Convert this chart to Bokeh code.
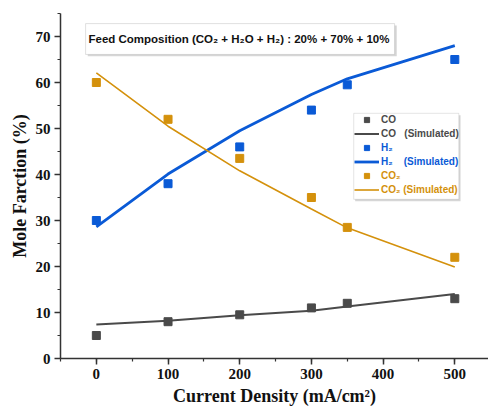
from bokeh.plotting import figure
from bokeh.models import (Range1d, SingleIntervalTicker, Legend, LegendItem,
                          BoxAnnotation, Label)
from bokeh.embed import file_html
from bokeh.resources import INLINE

# ---- data ----
current = [0, 100, 200, 300, 350, 500]
co_exp = [5, 8, 9.5, 11, 12, 13]
co_sim = [7.4, 8.2, 9.4, 10.4, 11.3, 14.0]
h2_exp = [30, 38, 46, 54, 59.5, 65]
h2_sim = [28.6, 40.1, 49.5, 57.4, 60.8, 68.0]
co2_exp = [60, 52, 43.5, 35, 28.5, 22]
co2_sim = [62.1, 50.5, 40.8, 32.5, 28.4, 19.9]

GRAY = "#4a4a4a"
BLUE = "#0a5ad6"
ORANGE = "#d4910c"

p = figure(width=488, height=408, output_backend="svg", toolbar_location=None,
           x_range=Range1d(-50, 547), y_range=Range1d(0, 75),
           min_border_left=60, min_border_right=0, min_border_top=13,
           min_border_bottom=49)
p.outline_line_color = None
p.xgrid.visible = False
p.ygrid.visible = False
p.background_fill_color = "white"

# axes
p.xaxis.ticker = SingleIntervalTicker(interval=100, num_minor_ticks=2)
p.yaxis.ticker = SingleIntervalTicker(interval=10, num_minor_ticks=2)
for ax in (p.xaxis[0], p.yaxis[0]):
    ax.axis_line_color = "#333333"
    ax.axis_line_width = 1.5
    ax.major_tick_line_color = "#333333"
    ax.minor_tick_line_color = "#333333"
    ax.major_tick_line_width = 1.5
    ax.minor_tick_line_width = 1.2
    ax.major_tick_in = 0
    ax.major_tick_out = 6
    ax.minor_tick_in = 0
    ax.minor_tick_out = 3
    ax.major_label_text_font = "Liberation Serif"
    ax.major_label_text_font_style = "bold"
    ax.major_label_text_font_size = "15px"
    ax.major_label_text_color = "#111111"
    ax.axis_label_text_font = "Liberation Serif"
    ax.axis_label_text_font_style = "bold"
    ax.axis_label_text_font_size = "18px"
    ax.axis_label_text_color = "#111111"
p.xaxis.axis_label = "Current Density (mA/cm\u00b2)"
p.yaxis.axis_label = "Mole Farction (%)"
p.xaxis.major_label_standoff = 4
p.yaxis.major_label_standoff = 4
p.xaxis.axis_label_standoff = 4
p.yaxis.axis_label_standoff = 3

# series
r_co_l = p.line(current, co_sim, line_color=GRAY, line_width=2)
r_h2_l = p.line(current, h2_sim, line_color=BLUE, line_width=2.8)
r_co2_l = p.line(current, co2_sim, line_color=ORANGE, line_width=1.6)
r_co_m = p.scatter(current, co_exp, marker="square", size=8, fill_color=GRAY, line_color=GRAY)
r_h2_m = p.scatter(current, h2_exp, marker="square", size=8, fill_color=BLUE, line_color=BLUE)
r_co2_m = p.scatter(current, co2_exp, marker="square", size=8, fill_color=ORANGE, line_color=ORANGE)

# title box
p.add_layout(BoxAnnotation(left=-12, right=419, top=72.4, bottom=65.7,
                           fill_color="#bbbbbb", fill_alpha=0.6, line_color=None))
p.add_layout(BoxAnnotation(left=-15, right=416, top=72.8, bottom=66.1,
                           fill_color="white", fill_alpha=1, line_color="#999999",
                           line_width=1))
p.add_layout(Label(x=-11, y=69.4, text="Feed Composition (CO\u2082 + H\u2082O + H\u2082) :  20% + 70% + 10%",
                   text_font="Liberation Sans", text_font_style="bold",
                   text_font_size="11.5px", text_color="#111111",
                   text_baseline="middle"))

# legend box
p.add_layout(BoxAnnotation(left=361, right=508, top=52.9, bottom=34.2,
                           fill_color="#bbbbbb", fill_alpha=0.6, line_color=None))
p.add_layout(BoxAnnotation(left=359, right=505.6, top=53.3, bottom=34.6,
                           fill_color="white", fill_alpha=1, line_color="#aaaaaa",
                           line_width=1))

NB = "\u00a0"
groups = [
    (GRAY, [("CO", r_co_m), ("CO" + NB * 3 + "(Simulated)", r_co_l)]),
    (BLUE, [("H\u2082", r_h2_m), ("H\u2082" + NB * 4 + "(Simulated)", r_h2_l)]),
    (ORANGE, [("CO\u2082", r_co2_m), ("CO\u2082 (Simulated)", r_co2_l)]),
]
ys = [218, 190, 162]
for (col, items), yy in zip(groups, ys):
    lg = Legend(items=[LegendItem(label=t, renderers=[r]) for t, r in items],
                location=(294, yy), orientation="vertical",
                glyph_width=25, glyph_height=13, label_height=13,
                label_standoff=2, spacing=1, padding=0, margin=0,
                label_text_font="Liberation Sans", label_text_font_size="10px",
                label_text_font_style="bold",
                label_text_color=col, border_line_color=None,
                background_fill_alpha=0)
    p.add_layout(lg)

open("out.html", "w").write(file_html(p, INLINE))
